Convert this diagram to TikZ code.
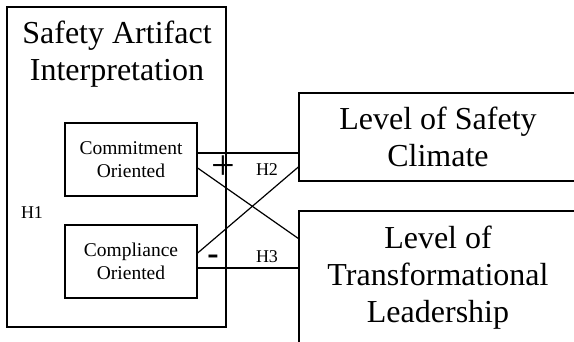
\documentclass[tikz,border=0pt]{standalone}
\usepackage{fontspec}
\setmainfont{Liberation Serif}
\usetikzlibrary{positioning}

\tikzset{
  box/.style={draw, line width=1.3pt, rectangle, inner sep=0pt, align=center},
  bigtext/.style={font=\fontsize{32}{37}\selectfont},
  smalltext/.style={font=\fontsize{19.5}{23}\selectfont},
  hyptext/.style={font=\fontsize{18}{19}\selectfont},
  link/.style={line width=1.2pt},
}

\begin{document}
\begin{tikzpicture}[x=1pt,y=1pt]
    \useasboundingbox (0,0) rectangle (574,341);
    \clip (0,0) rectangle (574,341);

    % === Left side: interpretation ===
    \node[box, minimum width=219pt, minimum height=320pt] (artifact) at (116.5,174) {};
    \node[bigtext, align=center] (artifacttitle) at (117,287) {Safety Artifact\\Interpretation};

    % Inner boxes
    \node[box, smalltext, minimum width=132pt, minimum height=73pt] (commit) at (131,181.5) {Commitment\\Oriented};
    \node[box, smalltext, minimum width=132pt, minimum height=73pt] (comply) at (131,79.5) {Compliance\\Oriented};
    \node[hyptext] (h1) at (32,128) {H1};

    % === Right side: outcomes ===
    \node[box, bigtext, minimum width=278pt, minimum height=88pt] (climate) at (438,204) {Level of Safety\\Climate};
    \node[box, bigtext, minimum width=278pt, minimum height=134pt] (leader) at (438,63) {Level of\\Transformational\\Leadership};

    % Connectors
    \draw[link] ([yshift=6.5pt]commit.east) -- ([yshift=-16pt]climate.west);
    \draw[link] ([yshift=-8.5pt]commit.east) -- ([yshift=39.5pt]leader.west);
    \draw[link] ([yshift=8.5pt]comply.east) -- ([yshift=-30pt]climate.west);
    \draw[link] ([yshift=-6.5pt]comply.east) -- ([yshift=10pt]leader.west);

    % Signs and hypotheses
    \node[font=\fontsize{42}{42}\selectfont] (plus) at (223,173) {+};
    \node[font=\bfseries\fontsize{34}{34}\selectfont] (minus) at (213,81) {-};
    \node[hyptext] (h2) at (267,171) {H2};
    \node[hyptext] (h3) at (267,84) {H3};
\end{tikzpicture}
\end{document}
